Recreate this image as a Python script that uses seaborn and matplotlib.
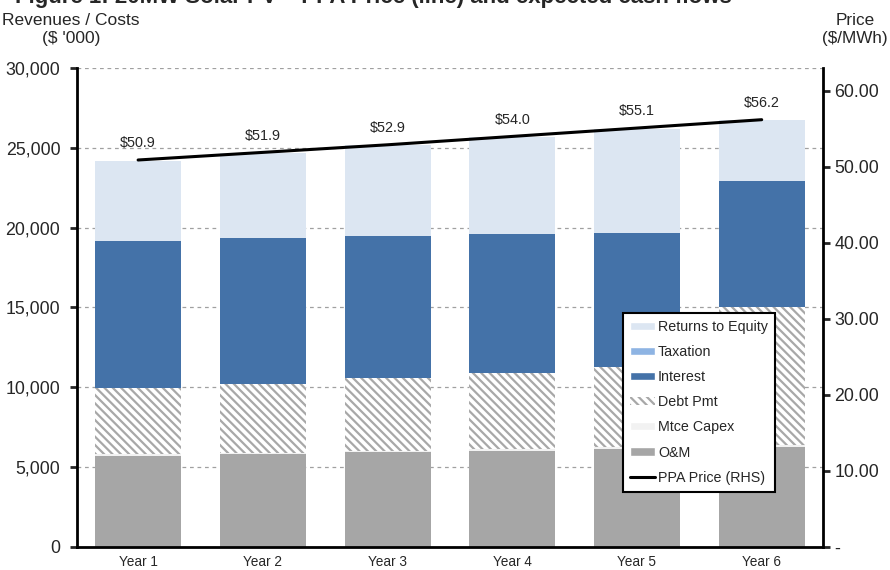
import numpy as np
import pandas as pd
import matplotlib
matplotlib.use('Agg')
import matplotlib.pyplot as plt
import seaborn as sns
from matplotlib.patches import Patch
from matplotlib.lines import Line2D
from matplotlib.ticker import FuncFormatter

# Data ($ '000)
years = ['Year 1', 'Year 2', 'Year 3', 'Year 4', 'Year 5', 'Year 6']
om = [5700, 5810, 5920, 6040, 6160, 6280]
mtce_capex = [100, 100, 100, 100, 100, 100]
debt_pmt = [4160, 4290, 4540, 4760, 5010, 8670]
interest = [9200, 9150, 8910, 8700, 8410, 7890]
taxation = [0, 0, 0, 0, 0, 0]
returns_equity = [5010, 5320, 5700, 6070, 6490, 3800]
ppa_price = [50.9, 51.9, 52.9, 54.0, 55.1, 56.2]

layers = ['O&M', 'Mtce Capex', 'Debt Pmt', 'Interest', 'Taxation', 'Returns to Equity']
colors = {'O&M': '#a6a6a6', 'Mtce Capex': '#f2f2f2', 'Debt Pmt': 'white',
          'Interest': '#4472a8', 'Taxation': '#8eb4e3', 'Returns to Equity': '#dce6f2'}
HATCH = '\\' * 4

df = pd.DataFrame({'year': years, 'O&M': om, 'Mtce Capex': mtce_capex,
                   'Debt Pmt': debt_pmt, 'Interest': interest,
                   'Taxation': taxation, 'Returns to Equity': returns_equity})
cum = df[layers].cumsum(axis=1)
cum['year'] = years


def main():
    sns.set_style('white')
    plt.rcParams['font.family'] = ['Liberation Sans', 'DejaVu Sans']
    plt.rcParams['hatch.linewidth'] = 1.6

    fig = plt.figure(figsize=(8.9, 5.7), dpi=100)
    ax = fig.add_axes([0.0865, 0.0404, 0.838, 0.8403])

    # stacked bars: draw cumulative totals from the top layer down
    for layer in reversed(layers):
        if layer == 'Debt Pmt':
            sns.barplot(data=cum, x='year', y=layer, order=years, color='white',
                        saturation=1, width=0.69, ax=ax, hatch=HATCH,
                        edgecolor='#a8a8a8', linewidth=0, zorder=2)
        else:
            sns.barplot(data=cum, x='year', y=layer, order=years,
                        color=colors[layer], saturation=1, width=0.69, ax=ax,
                        linewidth=0, zorder=2)

    ax.set_xlim(-0.49, 5.49)
    ax.set_ylim(0, 30000)
    ax.set_yticks(range(0, 30001, 5000))
    ax.yaxis.set_major_formatter(FuncFormatter(lambda v, p: f'{v:,.0f}'))
    ax.set_xlabel('')
    ax.set_ylabel('')
    ax.yaxis.grid(True, linestyle=(0, (3, 3)), color='#a0a0a0', linewidth=0.9)
    ax.set_axisbelow(True)
    ax.tick_params(axis='y', labelsize=12.8, length=5, width=2, direction='out',
                   left=True, pad=7)
    ax.tick_params(axis='x', labelsize=9.8, length=0, pad=6)
    for s in ['left', 'bottom']:
        ax.spines[s].set_linewidth(2)
        ax.spines[s].set_color('black')
    ax.spines['top'].set_visible(False)
    ax.spines['right'].set_visible(False)

    # price line on the right axis
    ax2 = ax.twinx()
    xs = np.arange(len(years))
    sns.lineplot(x=xs, y=ppa_price, ax=ax2, color='black', linewidth=2.2)
    for x, p in zip(xs, ppa_price):
        ax2.annotate(f'${p:.1f}', (x, p), xytext=(0, 12), textcoords='offset points',
                     ha='center', va='center', fontsize=10.4)
    ax2.set_ylim(0, 63)
    ax2.set_yticks(range(0, 61, 10))
    ax2.yaxis.set_major_formatter(FuncFormatter(lambda v, p: '-' if v == 0 else f'{v:.2f}'))
    ax2.tick_params(axis='y', labelsize=12.8, length=5, width=2, direction='out', pad=3.5)
    ax2.spines['right'].set_linewidth(2)
    ax2.spines['right'].set_color('black')
    for s in ['left', 'top', 'bottom']:
        ax2.spines[s].set_visible(False)
    ax2.set_xlim(-0.49, 5.49)

    handles = [Patch(facecolor=colors['Returns to Equity'], label='Returns to Equity'),
               Patch(facecolor=colors['Taxation'], label='Taxation'),
               Patch(facecolor=colors['Interest'], label='Interest'),
               Patch(facecolor='white', hatch=HATCH, edgecolor='#a8a8a8', linewidth=0,
                     label='Debt Pmt'),
               Patch(facecolor=colors['Mtce Capex'], label='Mtce Capex'),
               Patch(facecolor=colors['O&M'], label='O&M'),
               Line2D([0], [0], color='black', linewidth=2.2, label='PPA Price (RHS)')]
    leg = ax2.legend(handles=handles, loc='lower right', bbox_to_anchor=(0.936, 0.115),
                     fontsize=10.3, frameon=True, fancybox=False, framealpha=1,
                     edgecolor='black', handlelength=1.75, handleheight=0.5,
                     labelspacing=0.78, handletextpad=0.2, borderpad=0.5,
                     borderaxespad=0)
    leg.get_frame().set_linewidth(1.5)

    # axis titles and clipped figure title
    fig.text(0.08, 0.978, "Revenues / Costs\n($ '000)", ha='center', va='top',
             fontsize=12.5, linespacing=1.25)
    fig.text(0.961, 0.978, "Price\n($/MWh)", ha='center', va='top',
             fontsize=12.3, linespacing=1.25)
    fig.text(0.017, 1 - 3 / 570, 'Figure 1: 20MW Solar PV \u2013 PPA Price (line) and expected cash flows',
             ha='left', va='baseline', fontsize=16, fontweight='bold')

    fig.savefig('out.png', dpi=100)


if __name__ == '__main__':
    main()
